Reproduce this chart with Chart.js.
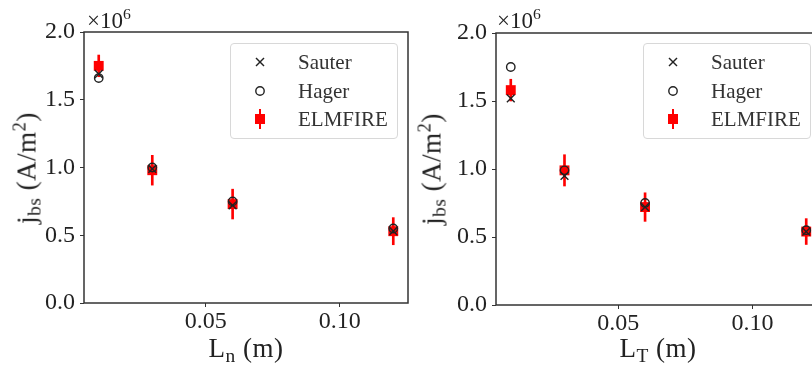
<!DOCTYPE html>
<html>
<head>
<meta charset="utf-8">
<script src="https://cdn.jsdelivr.net/npm/chart.js@4.4.0/dist/chart.umd.min.js"></script>
<style>
  body { margin: 0; background: #fff; }
  #fig { position: relative; width: 812px; height: 370px; overflow: hidden; font-family: 'Liberation Serif', serif; color: #222; }
  .panel { position: absolute; top: 0; height: 370px; }
  .exp { position: absolute; top: 8px; font-size: 23px; white-space: nowrap; }
  .ylab { position: absolute; font-size: 27px; letter-spacing: 0.5px; white-space: nowrap; transform: translate(-50%, -50%) rotate(-90deg); }
  .xlab { position: absolute; top: 333px; font-size: 27px; letter-spacing: 0.5px; white-space: nowrap; transform: translateX(-50%); }
  .up { font-size: 0.68em; position: relative; top: -0.55em; }
  .dn { font-size: 0.72em; position: relative; top: 0.25em; }
  .legend { position: absolute; top: 43px; width: 166px; height: 94px; border: 1px solid #d8d8d8; border-radius: 4px; background: rgba(255,255,255,0.8); }
  .row { position: absolute; left: 0; height: 28px; line-height: 28px; font-size: 21px; color: #333; }
  .row svg { position: absolute; left: 19px; top: 4px; }
  .row span { position: absolute; left: 67px; }
</style>
</head>
<body>
<div id="fig">
  <div class="panel" style="left:0;width:450px"><canvas id="chartLn" width="450" height="370"></canvas></div>
  <div class="panel" style="left:450px;width:380px"><canvas id="chartLT" width="380" height="370"></canvas></div>

  <div class="exp" style="left:87px">×10<span class="up">6</span></div>
  <div class="exp" style="left:497px">×10<span class="up">6</span></div>
  <div class="ylab" style="left:27px;top:168px">j<span class="dn">bs</span> (A/m<span class="up">2</span>)</div>
  <div class="ylab" style="left:432px;top:169px">j<span class="dn">bs</span> (A/m<span class="up">2</span>)</div>
  <div class="xlab" style="left:246px">L<span class="dn">n</span> (m)</div>
  <div class="xlab" style="left:658px">L<span class="dn">T</span> (m)</div>

  <div class="legend" style="left:230px" id="legLn"></div>
  <div class="legend" style="left:643px" id="legLT"></div>
</div>
<script>
// scan lengths (m)
const lengths = [0.01, 0.03, 0.06, 0.12];

// bootstrap current, x 10^6 A/m^2, L_n scan
const sauterLn = [1.69, 0.99, 0.72, 0.53];
const hagerLn = [1.66, 1.00, 0.75, 0.55];
const elmfireLn = [1.75, 0.98, 0.73, 0.53];
const elmfireErrLn = [0.08, 0.11, 0.11, 0.10];

// L_T scan
const sauterLT = [1.52, 0.95, 0.72, 0.54];
const hagerLT = [1.75, 0.99, 0.75, 0.55];
const elmfireLT = [1.58, 0.99, 0.72, 0.54];
const elmfireErrLT = [0.08, 0.115, 0.105, 0.095];

const xTicks = [0.05, 0.10];
const yTicks = [0.0, 0.5, 1.0, 1.5, 2.0];
const legendNames = ['Sauter', 'Hager', 'ELMFIRE'];

const ink = '#222';
const red = '#ff0000';
const tickFont = { family: 'Liberation Serif', size: 24 };

// box around the axes
const frame = {
  id: 'frame',
  afterDraw(chart) {
    const { ctx, chartArea: a } = chart;
    ctx.save();
    ctx.strokeStyle = '#333';
    ctx.lineWidth = 1.5;
    ctx.strokeRect(a.left, a.top, a.right - a.left, a.bottom - a.top);
    ctx.restore();
  }
};

function points(ys) {
  return lengths.map((x, i) => ({ x: x, y: ys[i] }));
}

function makeChart(id, sauter, hager, elmfire, err, box) {
  return new Chart(document.getElementById(id), {
    type: 'scatter',
    data: {
      datasets: [
        { label: 'Hager', data: points(hager), pointStyle: 'circle', pointRadius: 4.2,
          borderColor: ink, borderWidth: 1.4, backgroundColor: 'rgba(0,0,0,0)' },
        { label: 'Sauter', data: points(sauter), pointStyle: 'crossRot', pointRadius: 5.5,
          borderColor: ink, borderWidth: 1.4 },
        { label: 'ELMFIRE', data: points(elmfire), pointStyle: 'rect', pointRadius: 7,
          backgroundColor: red, borderColor: red, borderWidth: 0 },
        { type: 'bar', label: 'ELMFIRE error',
          data: lengths.map((x, i) => ({ x: x, y: [elmfire[i] - err[i], elmfire[i] + err[i]] })),
          backgroundColor: red, borderWidth: 0, barThickness: 2 }
      ]
    },
    options: {
      responsive: false,
      animation: false,
      events: [],
      layout: { padding: { left: 0, right: box.right, top: box.top, bottom: 0 } },
      plugins: { legend: { display: false }, tooltip: { enabled: false } },
      scales: {
        x: {
          type: 'linear', min: 0.0045, max: 0.1255, offset: false,
          grid: { display: true, drawOnChartArea: false, drawTicks: true, tickLength: 4, tickColor: '#333', offset: false },
          border: { display: false },
          afterBuildTicks: s => { s.ticks = xTicks.map(v => ({ value: v })); },
          afterFit: s => { s.height = box.xh; },
          ticks: { font: tickFont, color: ink, padding: 0, maxRotation: 0, callback: v => v.toFixed(2) }
        },
        y: {
          type: 'linear', min: 0, max: 2.0,
          grid: { display: true, drawOnChartArea: false, drawTicks: true, tickLength: 4, tickColor: '#333' },
          border: { display: false },
          afterBuildTicks: s => { s.ticks = yTicks.map(v => ({ value: v })); },
          afterFit: s => { s.width = box.yw; },
          ticks: { font: tickFont, color: ink, padding: 5, callback: v => v.toFixed(1) }
        }
      }
    },
    plugins: [frame]
  });
}

makeChart('chartLn', sauterLn, hagerLn, elmfireLn, elmfireErrLn, { right: 42, top: 32, xh: 67, yw: 84 });
makeChart('chartLT', sauterLT, hagerLT, elmfireLT, elmfireErrLT, { right: 9, top: 33, xh: 65, yw: 46 });

// legend symbols, matching the plotted markers
const symbols = {
  Sauter: '<line x1="6" y1="6" x2="14" y2="14" stroke="#222" stroke-width="1.5"/><line x1="14" y1="6" x2="6" y2="14" stroke="#222" stroke-width="1.5"/>',
  Hager: '<circle cx="10" cy="10" r="4.2" fill="none" stroke="#222" stroke-width="1.4"/>',
  ELMFIRE: '<rect x="9" y="0" width="2" height="20" fill="#ff0000"/><rect x="5" y="5" width="10" height="10" fill="#ff0000"/>'
};

function buildLegend(id) {
  const el = document.getElementById(id);
  legendNames.forEach((name, i) => {
    const row = document.createElement('div');
    row.className = 'row';
    row.style.top = (4 + i * 28.5) + 'px';
    row.style.width = '100%';
    row.innerHTML = '<svg width="20" height="20" viewBox="0 0 20 20">' + symbols[name] + '</svg><span>' + name + '</span>';
    el.appendChild(row);
  });
}
buildLegend('legLn');
buildLegend('legLT');
</script>
</body>
</html>
